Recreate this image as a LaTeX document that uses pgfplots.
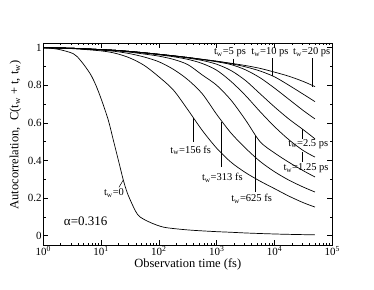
\documentclass[border=0pt]{standalone}
\usepackage{fontspec}
\setmainfont{Liberation Serif}
\usepackage{pgfplots}
\pgfplotsset{compat=1.18}
\usepackage{pgfplotstable}

\pgfplotstableread{
t      c156  c313  c625  c1250 c2500 c5000 c10000 c20000
1      1.000 1.000 1.000 1.000 1.000 1.000 1.000 1.000
3.162  0.995 0.996 0.997 0.997 0.997 0.997 0.997 0.997
10     0.983 0.987 0.989 0.990 0.990 0.990 0.990 0.990
17.78  0.970 0.980 0.984 0.986 0.986 0.986 0.986 0.986
31.62  0.945 0.968 0.976 0.979 0.980 0.980 0.980 0.980
56.23  0.905 0.950 0.966 0.971 0.973 0.973 0.973 0.973
100    0.845 0.925 0.955 0.962 0.965 0.965 0.965 0.965
177.8  0.775 0.885 0.938 0.952 0.956 0.957 0.957 0.957
316.2  0.670 0.830 0.910 0.938 0.945 0.948 0.948 0.948
562.3  0.560 0.755 0.855 0.916 0.932 0.937 0.938 0.938
1000   0.465 0.645 0.800 0.880 0.912 0.925 0.928 0.928
1778   0.390 0.545 0.720 0.820 0.878 0.910 0.915 0.917
3162   0.335 0.465 0.615 0.745 0.825 0.882 0.898 0.905
5623   0.290 0.395 0.500 0.660 0.755 0.840 0.876 0.890
10000  0.250 0.340 0.440 0.580 0.685 0.785 0.845 0.870
17783  0.210 0.295 0.390 0.510 0.620 0.725 0.800 0.848
31623  0.175 0.258 0.345 0.452 0.563 0.665 0.752 0.820
50119  0.152 0.232 0.312 0.418 0.515 0.621 0.713 0.793
}\aging

\pgfplotstableread{
t      c
1      1.000
1.778  0.992
3.311  0.968
4.467  0.930
6.457  0.862
8.128  0.800
10.23  0.720
13.34  0.614
16.22  0.510
19.95  0.400
24.21  0.296
28.18  0.230
33.88  0.172
39.81  0.128
46.77  0.100
70.79  0.070
120.2  0.045
251.2  0.033
446.7  0.027
1000   0.021
1698   0.018
3162   0.014
7244   0.010
15849  0.007
50119  0.004
}\zero

\begin{document}
\begin{tikzpicture}
\begin{axis}[
  at={(0,0)}, anchor=south west,
  scale only axis, width=289pt, height=202pt,
  xmode=log, xmin=1, xmax=1e5, ymin=-0.05, ymax=1.025,
  xtick={1,10,100,1000,10000,100000},
  xticklabels={10\textsuperscript{0},10\textsuperscript{1},10\textsuperscript{2},10\textsuperscript{3},10\textsuperscript{4},10\textsuperscript{5}},
  minor xtick={2,3,4,5,6,7,8,9,20,30,40,50,60,70,80,90,200,300,400,500,600,700,800,900,2000,3000,4000,5000,6000,7000,8000,9000,20000,30000,40000,50000,60000,70000,80000,90000},
  ytick={0,0.2,0.4,0.6,0.8,1},
  yticklabels={0,0.2,0.4,0.6,0.8,1},
  minor ytick={0.1,0.3,0.5,0.7,0.9},
  major tick length=5pt, minor tick length=2.5pt,
  tick style={black, line width=0.5pt},
  axis line style={line width=0.6pt},
  ticklabel style={font=\fontsize{11}{13}\selectfont},
  yticklabel style={inner xsep=1.5pt},
  xticklabel style={inner ysep=1.5pt},
  xlabel={Observation time (fs)},
  ylabel={Autocorrelation,\ \ C(t\textsubscript{w} + t, t\textsubscript{w})},
  label style={font=\fontsize{12.5}{14}\selectfont},
  xlabel style={at={(axis description cs:0.5,0)}, anchor=center, yshift=-19pt},
  ylabel style={at={(axis description cs:-0.097,0.545)}, anchor=center},
]
\addplot[black, line width=0.7pt, smooth, tension=0.5, mark=none] table[x=t, y=c] {\zero};
\addplot[black, line width=0.7pt, smooth, tension=0.5, mark=none] table[x=t, y=c156] {\aging};
\addplot[black, line width=0.7pt, smooth, tension=0.5, mark=none] table[x=t, y=c313] {\aging};
\addplot[black, line width=0.7pt, smooth, tension=0.5, mark=none] table[x=t, y=c625] {\aging};
\addplot[black, line width=0.7pt, smooth, tension=0.5, mark=none] table[x=t, y=c1250] {\aging};
\addplot[black, line width=0.7pt, smooth, tension=0.5, mark=none] table[x=t, y=c2500] {\aging};
\addplot[black, line width=0.7pt, smooth, tension=0.5, mark=none] table[x=t, y=c5000] {\aging};
\addplot[black, line width=0.7pt, smooth, tension=0.5, mark=none] table[x=t, y=c10000] {\aging};
\addplot[black, line width=0.7pt, smooth, tension=0.5, mark=none] table[x=t, y=c20000] {\aging};

\begin{scope}[line width=0.5pt, black]
\draw (axis cs:393.6,0.625) -- (axis cs:393.6,0.497);
\draw (axis cs:1216,0.604) -- (axis cs:1216,0.365);
\draw (axis cs:4592,0.529) -- (axis cs:4592,0.232);
\draw (axis cs:30690,0.565) -- (axis cs:30690,0.515);
\draw (axis cs:30690,0.444) -- (axis cs:30690,0.391);
\draw (axis cs:1936,0.940) -- (axis cs:1936,0.908);
\draw (axis cs:9162,0.943) -- (axis cs:9162,0.851);
\draw (axis cs:45709,0.943) -- (axis cs:45709,0.790);
\draw (axis cs:20.37,0.257) -- (axis cs:24.21,0.296);
\end{scope}

\begin{scope}[every node/.style={font=\fontsize{10.5}{12}\selectfont, inner sep=0pt, anchor=center}]
\node at (axis cs:354.8,0.453) {t\textsubscript{w}=156 fs};
\node at (axis cs:1250,0.306) {t\textsubscript{w}=313 fs};
\node at (axis cs:4018,0.197) {t\textsubscript{w}=625 fs};
\node at (axis cs:38460,0.489) {t\textsubscript{w}=2.5 ps};
\node at (axis cs:35075,0.359) {t\textsubscript{w}=1.25 ps};
\node at (axis cs:1698,0.975) {t\textsubscript{w}=5 ps};
\node at (axis cs:8356,0.975) {t\textsubscript{w}=10 ps};
\node at (axis cs:43954,0.975) {t\textsubscript{w}=20 ps};
\node at (axis cs:16.71,0.228) {t\textsubscript{w}=0};
\end{scope}
\node[font=\fontsize{13}{15}\selectfont, inner sep=0pt, anchor=center] at (axis cs:5.41,0.074) {α=0.316};
\end{axis}
\path (-43.3pt,-44pt) rectangle (330.7pt,245pt);
\end{tikzpicture}
\end{document}
